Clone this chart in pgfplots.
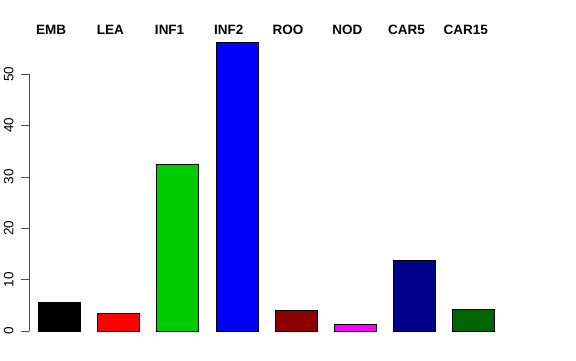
\documentclass[border=0pt]{standalone}
\usepackage{pgfplots}
\pgfplotsset{compat=1.18}
\usepackage{fontspec}
\setmainfont{Liberation Sans}
\definecolor{rgreen}{RGB}{0,205,0}
\definecolor{rdarkred}{RGB}{139,0,0}
\definecolor{rdarkblue}{RGB}{0,0,139}
\definecolor{rdarkgreen}{RGB}{0,100,0}
\definecolor{rmagenta}{RGB}{255,0,255}
\newcommand{\lblfont}{\fontsize{13.5}{16}\selectfont}
\begin{document}
\begin{tikzpicture}[x=1pt,y=1pt]
\useasboundingbox (0,0) rectangle (576,360);
\begin{axis}[
  at={(29pt,29pt)}, anchor=south west,
  scale only axis, width=480.2pt, height=257pt,
  xmin=-0.51, xmax=7.6, ymin=0, ymax=50,
  clip=false,
  axis x line=none,
  axis y line=left,
  axis line style={-, line width=0.6pt, black!70},
  ytick={0,10,20,30,40,50},
  tick align=outside,
  major tick length=8pt,
  tick style={line width=0.6pt, black!70},
  /pgf/number format/assume math mode=true,
  yticklabel shift=4pt,
  yticklabel style={rotate=90, anchor=south, font=\lblfont},
  ybar, bar width=0.71, bar shift=0pt,
  every axis plot/.append style={draw=black, line width=0.6pt},
]
\addplot[fill=black] coordinates {(0,5.58)};
\addplot[fill=red] coordinates {(1,3.44)};
\addplot[fill=rgreen] coordinates {(2,32.4)};
\addplot[fill=blue] coordinates {(3,56.1)};
\addplot[fill=rdarkred] coordinates {(4,3.95)};
\addplot[fill=rmagenta] coordinates {(5,1.36)};
\addplot[fill=rdarkblue] coordinates {(6,13.7)};
\addplot[fill=rdarkgreen] coordinates {(7,4.28)};
\node[font=\lblfont\bfseries] at (axis cs:-0.135,58.6) {EMB};
\node[font=\lblfont\bfseries] at (axis cs:0.865,58.6) {LEA};
\node[font=\lblfont\bfseries] at (axis cs:1.865,58.6) {INF1};
\node[font=\lblfont\bfseries] at (axis cs:2.865,58.6) {INF2};
\node[font=\lblfont\bfseries] at (axis cs:3.865,58.6) {ROO};
\node[font=\lblfont\bfseries] at (axis cs:4.865,58.6) {NOD};
\node[font=\lblfont\bfseries] at (axis cs:5.865,58.6) {CAR5};
\node[font=\lblfont\bfseries] at (axis cs:6.865,58.6) {CAR15};
\end{axis}
\end{tikzpicture}
\end{document}
